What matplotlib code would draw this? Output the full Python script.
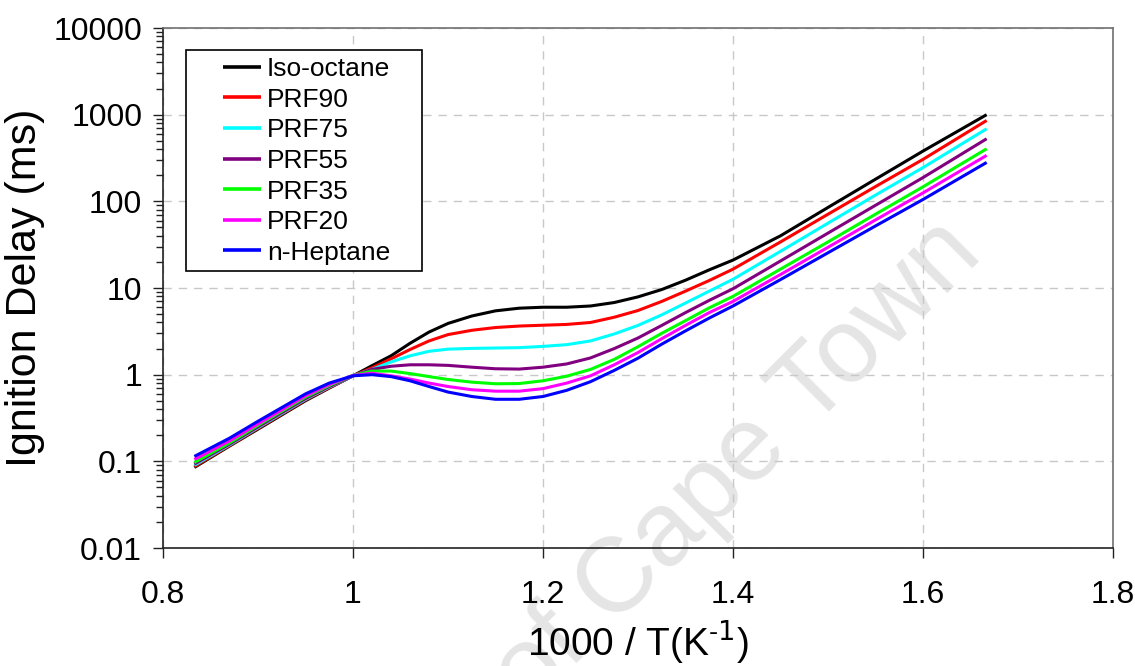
#! /usr/bin/env python

import matplotlib
matplotlib.use('Agg')
import matplotlib.pyplot as plt
import matplotlib.ticker as ticker
from matplotlib.patches import Rectangle

inv_t = [0.833, 0.87, 0.9, 0.95, 0.975, 1.0, 1.02, 1.04, 1.06, 1.08, 1.1, 1.125,
         1.15, 1.175, 1.2, 1.225, 1.25, 1.275, 1.3, 1.325, 1.35, 1.375, 1.4,
         1.45, 1.5, 1.55, 1.6, 1.667]

# ignition delay (ms) for each fuel
iso_octane = [0.085, 0.15, 0.235, 0.50, 0.70, 0.97, 1.27, 1.65, 2.3, 3.1, 3.9, 4.75,
              5.45, 5.85, 6.0, 6.0, 6.2, 6.8, 7.9, 9.6, 12.3, 16.2, 21,
              40, 85, 180, 380, 1000]
prf90 = [0.087, 0.152, 0.24, 0.51, 0.71, 0.97, 1.2, 1.52, 1.95, 2.45, 2.9, 3.25,
         3.5, 3.64, 3.72, 3.8, 4.0, 4.6, 5.5, 7.0, 9.2, 12.2, 16.5,
         34, 71, 148, 305, 857]
prf75 = [0.09, 0.155, 0.245, 0.52, 0.72, 0.97, 1.15, 1.4, 1.65, 1.86, 1.97, 2.01,
         2.03, 2.05, 2.12, 2.22, 2.45, 2.95, 3.7, 4.9, 6.7, 9.2, 12.6,
         26.5, 56, 118, 245, 687]
prf55 = [0.093, 0.158, 0.25, 0.53, 0.73, 0.97, 1.15, 1.25, 1.30, 1.30, 1.28, 1.22,
         1.17, 1.16, 1.22, 1.33, 1.56, 2.0, 2.65, 3.7, 5.2, 7.2, 9.8,
         20.5, 43, 90, 188, 527]
prf35 = [0.097, 0.163, 0.26, 0.55, 0.75, 0.98, 1.1, 1.1, 1.03, 0.95, 0.88, 0.82,
         0.785, 0.79, 0.85, 0.96, 1.15, 1.5, 2.1, 3.0, 4.2, 5.9, 8.0,
         16.5, 34, 71, 147, 404]
prf20 = [0.105, 0.172, 0.27, 0.57, 0.77, 0.98, 1.04, 0.97, 0.89, 0.8, 0.73, 0.67,
         0.645, 0.645, 0.69, 0.8, 0.97, 1.3, 1.8, 2.6, 3.7, 5.2, 7.0,
         14.3, 29.5, 61, 125, 339]
n_heptane = [0.114, 0.185, 0.29, 0.60, 0.80, 0.97, 1.0, 0.95, 0.85, 0.73, 0.63, 0.56,
             0.52, 0.52, 0.56, 0.66, 0.83, 1.12, 1.55, 2.25, 3.2, 4.5, 6.2,
             12.5, 25.5, 52, 105, 281]

labels = ['Iso-octane', 'PRF90', 'PRF75', 'PRF55', 'PRF35', 'PRF20', 'n-Heptane']
colors = ['#000000', '#ff0000', '#00ffff', '#800080', '#00ff00', '#ff00ff', '#0000ff']

x_ticks = [0.8, 1.0, 1.2, 1.4, 1.6, 1.8]
y_ticks = [0.01, 0.1, 1, 10, 100, 1000, 10000]

plt.rcParams['font.family'] = ['Liberation Sans', 'DejaVu Sans']


def plot(fname):
    fig = plt.figure(figsize=(11.35, 6.66), dpi=100)
    ax = fig.add_axes([163 / 1135, 1 - 548 / 666, 950 / 1135, 520 / 666])

    series = [iso_octane, prf90, prf75, prf55, prf35, prf20, n_heptane]
    handles = []
    for ys, lab, col in zip(series, labels, colors):
        h, = ax.plot(inv_t, ys, color=col, lw=2.2, label=lab, zorder=3,
                     solid_capstyle='butt', solid_joinstyle='round')
        handles.append(h)

    ax.set_yscale('log')
    ax.set_xlim(0.8, 1.8)
    ax.set_ylim(0.01, 10000)
    ax.set_xticks(x_ticks)
    ax.set_yticks(y_ticks)
    ax.xaxis.set_major_formatter(ticker.FuncFormatter(lambda v, p: '%g' % v))
    ax.yaxis.set_major_formatter(ticker.FuncFormatter(lambda v, p: '%g' % v))
    ax.yaxis.set_minor_locator(ticker.LogLocator(base=10, subs=range(2, 10), numticks=20))
    ax.yaxis.set_minor_formatter(ticker.NullFormatter())
    ax.tick_params(axis='both', which='major', direction='out', length=7,
                   width=1, labelsize=23, color='#222222')
    ax.tick_params(axis='x', which='major', pad=16)
    ax.tick_params(axis='y', which='major', pad=8)
    ax.tick_params(axis='y', which='minor', direction='out', length=5,
                   width=1, color='#222222')

    ax.grid(True, which='major', color='#c8c8c8', linestyle=(0, (6, 5)), lw=1)
    for side in ['left', 'bottom']:
        ax.spines[side].set_color('#222222')
        ax.spines[side].set_linewidth(1.2)
    for side in ['top', 'right']:
        ax.spines[side].set_color('#707070')
        ax.spines[side].set_linewidth(1.2)

    ax.set_xlabel('1000 / T(K$^{\\mathregular{\u2010}1}$)', fontsize=28, labelpad=6)
    ax.set_ylabel('Ignition Delay (ms)', fontsize=31, labelpad=6)

    # legend box drawn by hand, entries without frame
    ax.add_patch(Rectangle((0.0242, 0.5327), 0.2484, 0.425, transform=ax.transAxes,
                           fill=True, facecolor='white', edgecolor='black',
                           lw=1.2, zorder=4))
    leg = ax.legend(handles=handles, loc='upper left',
                    bbox_to_anchor=(0.0628, 0.944),
                    frameon=False, fontsize=19, handlelength=1.44,
                    handletextpad=0.23, labelspacing=0.25, borderpad=0,
                    borderaxespad=0)
    leg.set_zorder(5)
    for line in leg.get_lines():
        line.set_linewidth(2.6)

    # watermark
    ax.text(984 / 1135, 1 - 256 / 666, 'University of Cape Town',
            transform=fig.transFigure, fontsize=76, color='#e5e5e5',
            rotation=45, rotation_mode='anchor', ha='right', va='baseline',
            clip_on=False, zorder=0.5)

    fig.savefig(fname, dpi=100)
    plt.close(fig)


if __name__ == '__main__':
    plot('out.png')
